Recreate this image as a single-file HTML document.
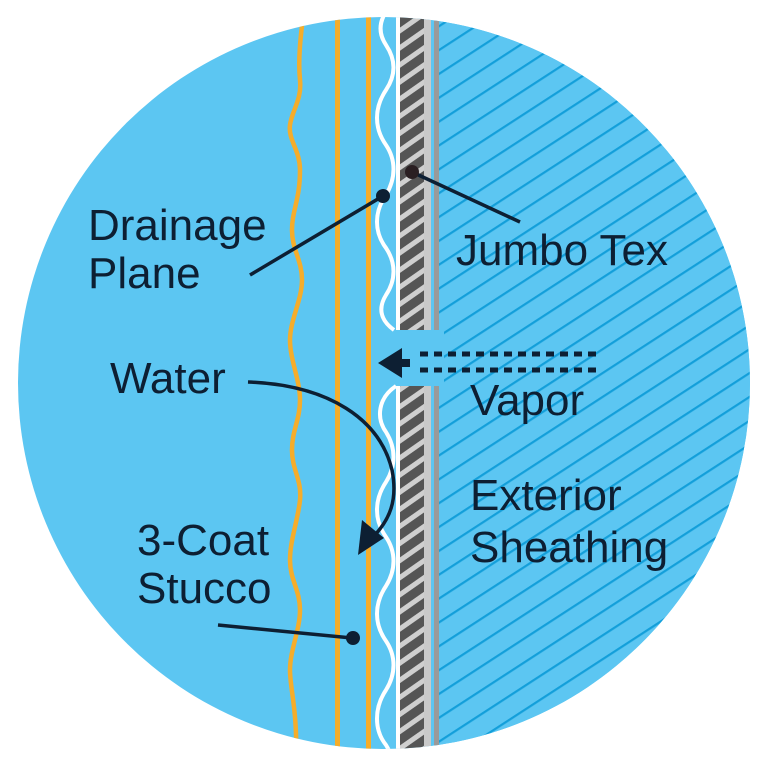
<!DOCTYPE html>
<html><head><meta charset="utf-8"><style>
html,body{margin:0;padding:0;background:#fff;width:768px;height:768px;overflow:hidden}
svg{display:block}
text{font-family:"Liberation Sans",sans-serif;font-size:44px;fill:#0d1f33}
</style></head><body>
<svg width="768" height="768" viewBox="0 0 768 768">
<defs>
<clipPath id="c"><circle cx="384" cy="383" r="366"/></clipPath>
<pattern id="hb" patternUnits="userSpaceOnUse" width="20" height="20" patternTransform="rotate(-33)">
<rect width="20" height="20" fill="#5cc6f2"/><rect y="0" width="20" height="2.2" fill="#139fda"/>
</pattern>
<pattern id="hg" patternUnits="userSpaceOnUse" width="14" height="14" patternTransform="rotate(-35)">
<rect width="14" height="14" fill="#555"/><rect width="14" height="5" fill="#cfcfcf"/>
</pattern>
</defs>
<g clip-path="url(#c)">
<rect width="768" height="768" fill="#5cc6f2"/>
<rect x="434" y="0" width="334" height="768" fill="url(#hb)"/>
<g>
<rect x="396" y="0" width="4" height="330" fill="#fff"/>
<rect x="400" y="0" width="24" height="330" fill="url(#hg)"/>
<rect x="424" y="0" width="7" height="330" fill="#c9c9c9"/>
<rect x="431" y="0" width="3" height="330" fill="#5cc6f2"/>
<rect x="434" y="0" width="5" height="330" fill="#9a9a9a"/>
<rect x="396" y="386" width="4" height="382" fill="#fff"/>
<rect x="400" y="386" width="24" height="382" fill="url(#hg)"/>
<rect x="424" y="386" width="7" height="382" fill="#c9c9c9"/>
<rect x="431" y="386" width="3" height="382" fill="#5cc6f2"/>
<rect x="434" y="386" width="5" height="382" fill="#9a9a9a"/>
<rect x="434" y="330" width="10" height="56" fill="#5cc6f2"/>
</g>
<rect x="335" y="0" width="5" height="768" fill="#f5ad2b"/>
<rect x="366" y="0" width="5" height="768" fill="#f5ad2b"/>
<path d="M305,0 C300,40 298,60 300,80 C302,100 292,110 290,125 C288,140 300,150 300,170 C300,200 292,210 292,230 C292,250 302,260 302,280 C302,300 290,320 290,340 C290,360 300,380 300,400 C300,420 292,430 292,450 C292,470 302,480 300,500 C298,520 290,540 290,560 C290,580 300,590 300,610 C300,630 290,650 290,670 C290,690 298,710 296,768" fill="none" stroke="#f5ad2b" stroke-width="4.5"/>
<path d="M396,0 C380,15 376,30 386,45 C396,60 396,75 386,90 C374,108 374,128 386,145 C396,160 396,178 386,195 C374,212 374,232 386,248 C396,263 396,280 386,295 C378,308 380,320 394,330" fill="none" stroke="#fff" stroke-width="4"/>
<path d="M396,386 C378,398 376,418 386,432 C396,448 396,466 386,482 C374,500 374,520 386,537 C396,552 396,570 386,586 C374,604 374,624 386,641 C396,656 396,674 386,690 C374,708 374,730 386,745 C392,755 394,762 396,768" fill="none" stroke="#fff" stroke-width="4"/>
</g>
<g fill="#0d1f33">
<path d="M378,363 L402,348 L402,378 Z"/>
<rect x="400" y="359" width="10" height="8"/>
</g>
<line x1="420" y1="354" x2="598" y2="354" stroke="#0d1f33" stroke-width="5" stroke-dasharray="8,6"/>
<line x1="420" y1="370" x2="598" y2="370" stroke="#0d1f33" stroke-width="5" stroke-dasharray="8,6"/>
<g stroke="#0d1f33" stroke-width="3.5" fill="none">
<line x1="383" y1="196" x2="250" y2="275"/>
<line x1="412" y1="172" x2="520" y2="222"/>
<line x1="352" y1="638" x2="218" y2="625"/>
<path d="M248,382 C330,385 380,420 392,470 C398,500 390,520 372,538"/>
</g>
<path d="M358,555 L362,520 L384,538 Z" fill="#0d1f33"/>
<circle cx="383" cy="196" r="7" fill="#0d1f33"/>
<circle cx="412" cy="172" r="7" fill="#2a1f22"/>
<circle cx="353" cy="638" r="7" fill="#0d1f33"/>
<text x="88" y="240">Drainage</text>
<text x="88" y="288">Plane</text>
<text x="456" y="265">Jumbo Tex</text>
<text x="110" y="393">Water</text>
<text x="470" y="415">Vapor</text>
<text x="470" y="510">Exterior</text>
<text x="470" y="562">Sheathing</text>
<text x="137" y="555">3-Coat</text>
<text x="137" y="603">Stucco</text>
</svg>
</body></html>
